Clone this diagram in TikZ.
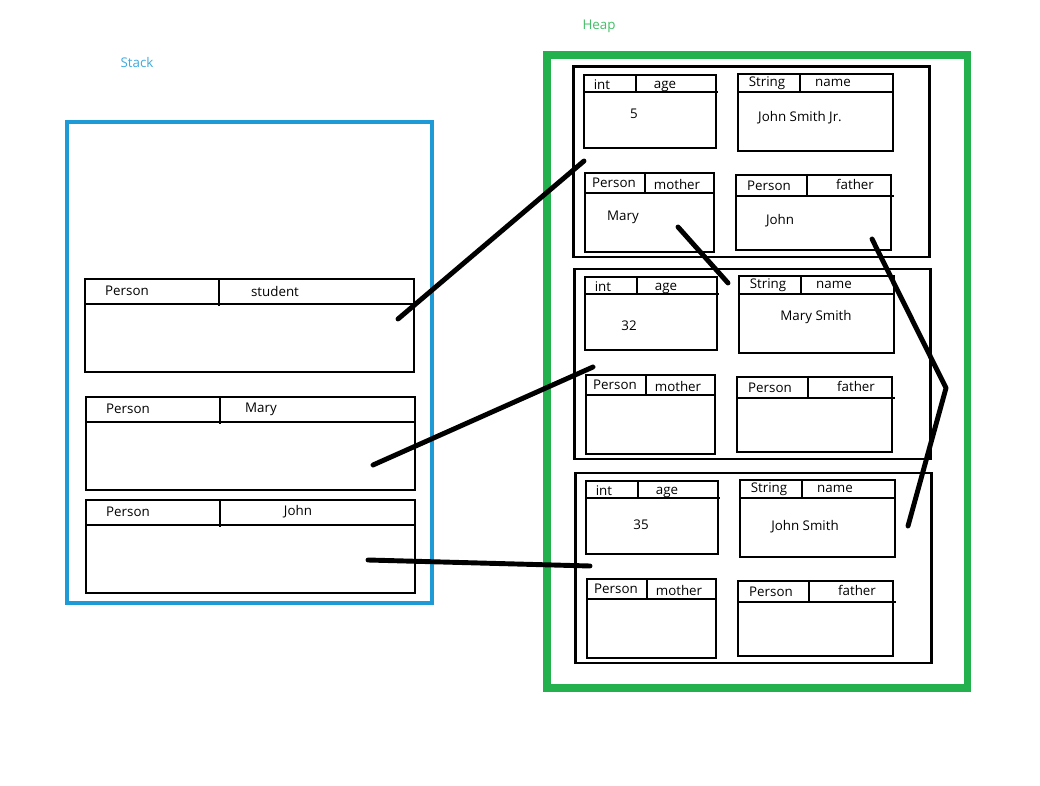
\documentclass[tikz,border=0pt]{standalone}
\usepackage{fontspec}
\setmainfont{Open Sans}
\usepackage{tikz}
\usetikzlibrary{fit}

\definecolor{stackblue}{HTML}{1E9BD6}
\definecolor{heapgreen}{HTML}{22B14C}

\tikzset{
  lbl/.style={font=\fontsize{7.6}{9}\selectfont, inner sep=0pt},
  cell/.style={draw, line width=0.7pt, inner sep=0pt},
  objbox/.style={draw, line width=1.7pt, inner sep=0pt},
  ref/.style={line width=2.8pt, line cap=round, line join=round},
}

\begin{document}
\begin{tikzpicture}[x=0.02cm, y=-0.02cm]
    \useasboundingbox (0,0) rectangle (1040,786);

    % Stack
    \node[lbl, text=stackblue!85] (stacklbl) at (137,63) {Stack};
    \node[draw=stackblue, line width=2.8pt, inner sep=0pt, fit={(67,122) (432,603)}] (stack) {};

    \foreach \n/\dx/\dy/\var/\vx in {st/0/279/student/275, ma/1/397/Mary/261, jo/1/500/John/298} {
        \node[cell, fit={(85+\dx,\dy) (414+\dx,\dy+93)}] (\n) {};
        \draw[line width=0.7pt] (85+\dx,\dy+25) -- (414+\dx,\dy+25)
            (219+\dx,\dy) -- (219+\dx,\dy+27);
        \node[lbl] (\n-type) at (127+\dx,\dy+12) {Person};
        \node[lbl] (\n-var) at (\vx,\dy+12) {\var};
    }

    % Heap
    \node[lbl, text=heapgreen!85] (heaplbl) at (599,26) {Heap};
    \node[draw=heapgreen, line width=4pt, inner sep=0pt, fit={(547,55) (967,688)}] (heap) {};

    \foreach \k/\dx/\dy/\age/\ax/\ay/\name/\nx/\ny/\mom/\dad in {1/0/0/5/634/114/John Smith Jr./800/118/Mary/John, 2/1/202/32/628/124/Mary Smith/815/115//, 3/2/406/35/639/119/John Smith/803/121//} {
      \begin{scope}[shift={(\dx,\dy)}]
        \node[objbox, fit={(573,67) (929,257)}] (obj\k) {};
        % int age
        \node[cell, fit={(584,75) (716,148)}] (age\k) {};
        \draw[line width=0.7pt] (584,92) -- (718,92) (636,75) -- (636,92);
        \node[lbl] (agetype\k) at (602,85) {int};
        \node[lbl] (agevar\k) at (665,86) {age};
        \node[lbl] (ageval\k) at (\ax,\ay) {\age};
        % String name
        \node[cell, fit={(738,74) (893,151)}] (name\k) {};
        \draw[line width=0.7pt] (738,92) -- (893,92) (800,74) -- (800,92);
        \node[lbl] (nametype\k) at (767,83) {String};
        \node[lbl] (namevar\k) at (833,83) {name};
        \node[lbl] (nameval\k) at (\nx,\ny) {\name};
        % Person mother
        \node[cell, fit={(585,173) (714,252)}] (mom\k) {};
        \draw[line width=0.7pt] (585,193) -- (714,193) (645,173) -- (645,193);
        \node[lbl] (momtype\k) at (614,183) {Person};
        \node[lbl] (momvar\k) at (677,184) {mother};
        \node[lbl] (momval\k) at (623,217) {\mom};
        % Person father
        \node[cell, fit={(736,175) (891,250)}] (dad\k) {};
        \draw[line width=0.7pt] (736,196) -- (894,196) (807,174) -- (807,196);
        \node[lbl] (dadtype\k) at (769,186) {Person};
        \node[lbl] (dadvar\k) at (855,184) {father};
        \node[lbl] (dadval\k) at (780,221) {\dad};
      \end{scope}
    }

    % References
    \coordinate (stref) at (398,319);   \coordinate (obj1ref) at (584,161);
    \coordinate (maref) at (373,465);   \coordinate (obj2ref) at (593,367);
    \coordinate (joref) at (368,560);   \coordinate (obj3ref) at (590,566);
    \coordinate (momref) at (678,227);  \coordinate (momtgt) at (728,283);
    \coordinate (dadref) at (872,239);  \coordinate (dadbend) at (946,388);
    \coordinate (dadtgt) at (908,526);

    \draw[ref] (stref) -- (obj1ref);
    \draw[ref] (maref) -- (obj2ref);
    \draw[ref] (joref) -- (obj3ref);
    \draw[ref] (momref) -- (momtgt);
    \draw[ref] (dadref) -- (dadbend) -- (dadtgt);
\end{tikzpicture}
\end{document}
